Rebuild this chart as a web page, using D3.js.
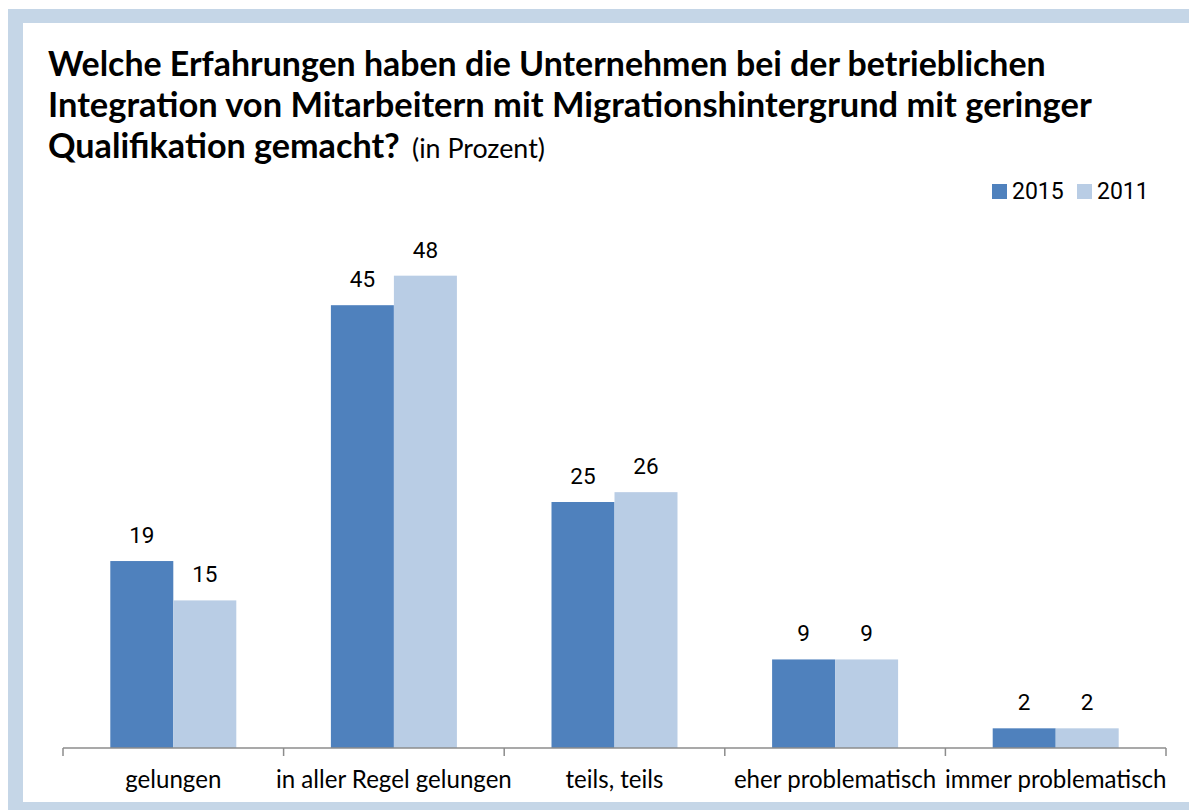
<!DOCTYPE html>
<html lang="de">
<head>
    <meta charset="UTF-8">
    <script src="https://cdn.jsdelivr.net/npm/d3@7"></script>
    <title>Erfahrungen Integration</title>
    <style>
        body { margin: 0; background: #fff; }
    </style>
</head>
<body>
<script>
    var categories = ["gelungen", "in aller Regel gelungen", "teils, teils", "eher problematisch", "immer problematisch"];
    var series = ["2015", "2011"];
    var values2015 = [19, 45, 25, 9, 2];
    var values2011 = [15, 48, 26, 9, 2];
    var colors = ["#4f81bd", "#b9cde5"];
    var titleLines = [
        "Welche Erfahrungen haben die Unternehmen bei der betrieblichen",
        "Integration von Mitarbeitern mit Migrationshintergrund mit geringer",
        "Qualifikation gemacht?"
    ];
    var subTitle = "(in Prozent)";

    var W = 1189, H = 810;
    var svg = d3.select("body").append("svg")
        .attr("width", W)
        .attr("height", H);

    // rahmen
    var frame = "#c5d6e7";
    svg.append("rect").attr("x", 8).attr("y", 9).attr("width", W - 8).attr("height", 14).attr("fill", frame);
    svg.append("rect").attr("x", 8).attr("y", 9).attr("width", 15).attr("height", H - 9).attr("fill", frame);
    svg.append("rect").attr("x", 8).attr("y", 802).attr("width", W - 8).attr("height", 8).attr("fill", frame);

    // text auf zielbreite bringen
    function fitWidth(t, size, target) {
        var len = t.node().getComputedTextLength();
        t.attr("font-size", size * target / len);
    }

    var titleFont = "Lato, 'Open Sans', sans-serif";
    var targets = [998, 1044, 352];
    var baselines = [76, 117, 158];
    titleLines.forEach(function (line, i) {
        var t = svg.append("text")
            .attr("x", 48)
            .attr("y", baselines[i])
            .attr("font-family", titleFont)
            .attr("font-weight", "bold")
            .attr("font-size", 28)
            .attr("fill", "#000")
            .text(line);
        fitWidth(t, 28, targets[i]);
    });
    var st = svg.append("text")
        .attr("x", 412)
        .attr("y", 158)
        .attr("font-family", titleFont)
        .attr("font-size", 20)
        .attr("fill", "#000")
        .text(subTitle);
    fitWidth(st, 20, 133);

    // skalen
    var x0 = d3.scaleBand()
        .domain(categories)
        .range([63, 1166]);

    var groupW = 126;
    var x1 = d3.scaleBand()
        .domain(series)
        .range([(x0.bandwidth() - groupW) / 2, (x0.bandwidth() + groupW) / 2]);

    var y = d3.scaleLinear()
        .domain([0, 50])
        .range([748, 256]);

    var data = categories.map(function (c, i) {
        return { cat: c, vals: [values2015[i], values2011[i]] };
    });

    var groups = svg.selectAll("g.grp")
        .data(data)
        .enter()
        .append("g")
        .attr("class", "grp")
        .attr("transform", d => "translate(" + x0(d.cat) + ",0)");

    groups.selectAll("rect")
        .data(d => d.vals.map((v, j) => ({ s: series[j], v: v, j: j })))
        .enter()
        .append("rect")
        .attr("x", d => x1(d.s))
        .attr("y", d => y(d.v))
        .attr("width", x1.bandwidth())
        .attr("height", d => y(0) - y(d.v))
        .attr("fill", d => colors[d.j]);

    var numFont = "Roboto, 'Liberation Sans', sans-serif";
    groups.selectAll("text.val")
        .data(d => d.vals.map((v, j) => ({ s: series[j], v: v })))
        .enter()
        .append("text")
        .attr("class", "val")
        .attr("x", d => x1(d.s) + x1.bandwidth() / 2)
        .attr("y", d => y(d.v) - 18)
        .attr("text-anchor", "middle")
        .attr("font-family", numFont)
        .attr("font-size", 22.5)
        .attr("fill", "#000")
        .text(d => d.v);

    // x-achse
    var axisLine = "#8c8c8c";
    svg.append("line")
        .attr("x1", 63).attr("x2", 1166)
        .attr("y1", y(0)).attr("y2", y(0))
        .attr("stroke", axisLine).attr("stroke-width", 1.5);

    var tickPos = categories.map(c => x0(c)).concat([1166]);
    svg.selectAll("line.tick")
        .data(tickPos)
        .enter()
        .append("line")
        .attr("class", "tick")
        .attr("x1", d => d).attr("x2", d => d)
        .attr("y1", y(0)).attr("y2", y(0) + 8)
        .attr("stroke", axisLine).attr("stroke-width", 1.5);

    var cats = svg.selectAll("text.cat")
        .data(categories)
        .enter()
        .append("text")
        .attr("class", "cat")
        .attr("x", d => x0(d) + x0.bandwidth() / 2)
        .attr("y", 788)
        .attr("text-anchor", "middle")
        .attr("font-family", titleFont)
        .attr("font-size", 20)
        .attr("fill", "#000")
        .text(d => d);
    // gleiche schriftgroesse fuer alle, gemessen an der zweiten kategorie
    var refLen = cats.nodes()[1].getComputedTextLength();
    cats.attr("font-size", 20 * 236 / refLen);

    // legende
    var legX = [992, 1077];
    var leg = svg.selectAll("g.leg")
        .data(series)
        .enter()
        .append("g")
        .attr("class", "leg")
        .attr("transform", (d, i) => "translate(" + legX[i] + ",184)");
    leg.append("rect")
        .attr("width", 15).attr("height", 15)
        .attr("fill", (d, i) => colors[i]);
    leg.append("text")
        .attr("x", 20).attr("y", 15)
        .attr("font-family", numFont)
        .attr("font-size", 23)
        .attr("fill", "#000")
        .text(d => d);
</script>
</body>
</html>
